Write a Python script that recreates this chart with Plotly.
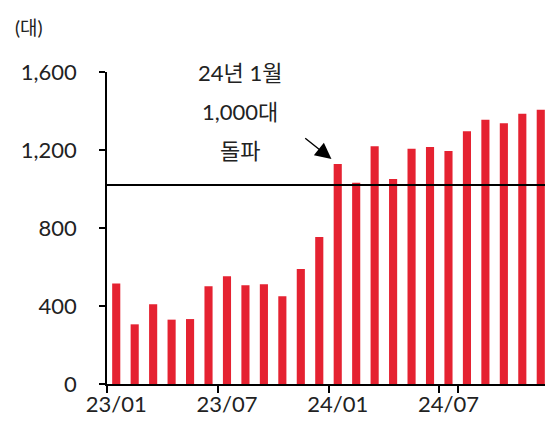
import plotly.graph_objects as go

months = ["23/01","23/02","23/03","23/04","23/05","23/06","23/07","23/08","23/09","23/10","23/11","23/12",
          "24/01","24/02","24/03","24/04","24/05","24/06","24/07","24/08","24/09","24/10","24/11","24/12"]
sales = [516, 306, 409, 330, 333, 501, 552, 506, 511, 450, 590, 754,
         1128, 1032, 1219, 1051, 1207, 1215, 1195, 1296, 1355, 1337, 1386, 1407]
tick_labels = ["23/01", "23/07", "24/01", "24/07"]
y_ticks = [0, 400, 800, 1200, 1600]
y_tick_text = ["0", "400", "800", "1,200", "1,600"]
threshold = 1020
note_lines = ["24년 1월", "1,000대", "돌파"]
unit_label = "(대)"

FONT = "Lato, 'Noto Sans CJK KR', sans-serif"
RED = "#E52231"

fig = go.Figure()
fig.add_trace(go.Bar(x=months, y=sales, marker=dict(color=RED, line=dict(width=0)), width=0.44))

fig.add_shape(type="line", xref="paper", yref="y", x0=0, x1=1.01, y0=threshold, y1=threshold,
              line=dict(color="black", width=2))
# closing boundary tick at the right end of the x axis
fig.add_shape(type="line", xref="paper", yref="paper", x0=1, x1=1, y0=0, y1=-0.0225,
              line=dict(color="black", width=1.5))

for t, yp in zip(note_lines, [1.0, 0.872, 0.747]):
    fig.add_annotation(text=t, xref="paper", yref="paper", x=0.30, y=yp, showarrow=False,
                       font=dict(family=FONT, size=22, color="#222"), xanchor="center", yanchor="middle")

fig.add_annotation(x="24/01", y=1128, xref="x", yref="y", ax=-34, ay=-27,
                   showarrow=True, arrowhead=2, arrowsize=2.3, arrowwidth=1.4, arrowcolor="black",
                   text="", standoff=8)

fig.add_annotation(text=unit_label, xref="paper", yref="paper", x=-0.212, y=1.144, showarrow=False,
                   font=dict(family=FONT, size=19, color="#222"), xanchor="left", yanchor="middle")

fig.update_layout(
    width=545, height=424, margin=dict(l=99, r=3, t=64, b=48),
    paper_bgcolor="white", plot_bgcolor="white", showlegend=False,
    font=dict(family=FONT, size=22, color="#222"),
    xaxis=dict(type="category", tickmode="array", tickvals=tick_labels, ticktext=tick_labels,
               tickson="boundaries", ticks="outside", ticklen=7, tickcolor="black", tickwidth=1.5,
               showline=True, linecolor="black", linewidth=1.5, showgrid=False, tickangle=0,
               automargin=False, range=[-0.5, 23.5], tickfont=dict(size=22)),
    yaxis=dict(range=[0, 1600], tickvals=y_ticks, ticktext=y_tick_text, ticks="outside", ticklen=6,
               tickcolor="black", tickwidth=1.5, showline=True, linecolor="black", linewidth=1.5,
               showgrid=False, zeroline=False, ticklabelstandoff=18, automargin=False,
               tickfont=dict(size=22)),
)

fig.write_html("out.html")
